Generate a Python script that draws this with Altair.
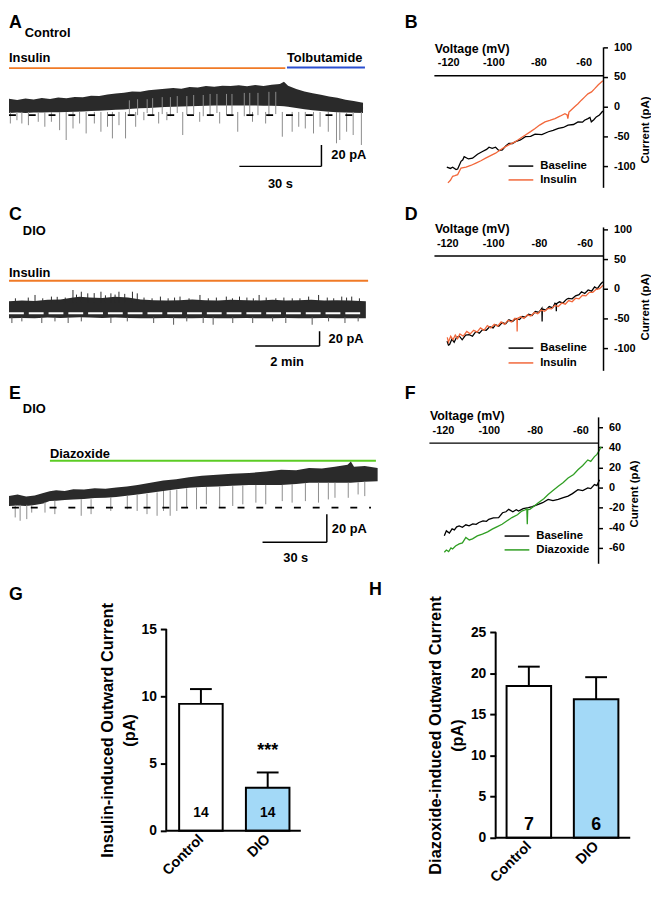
import altair as alt
import pandas as pd

FONT = "Liberation Sans"
TRACE = "#2a2a2a"
SPIKE = "#8c8c8c"
ORANGE_BAR = "#f07a26"
ORANGE_LINE = "#f2673a"
BLUE_BAR = "#2b4fd0"
GREEN_BAR = "#5ccc24"
GREEN_LINE = "#2f9e22"
LIGHT_BLUE = "#a3d9f7"

# ---------------- Panel A: Control, insulin then tolbutamide (time s, current pA) ----------------
A_t = [0, 3, 6, 9, 12, 15, 18, 21, 24, 27, 30, 33, 36, 39, 42, 45, 48, 51, 54, 57, 60, 63, 66,
       69, 72, 75, 78, 81, 84, 87, 90, 93, 96, 99, 100.5, 102, 105, 108, 111, 114, 117, 120,
       123, 126, 129.4]
A_top = [15.4, 14.2, 15.8, 14.8, 16.2, 15.2, 16.6, 16.0, 17.2, 17.0, 18.4, 18.0, 19.6, 20.5,
         21.2, 22.4, 22.0, 23.6, 24.2, 24.8, 25.6, 25.0, 26.6, 26.2, 27.4, 26.8, 27.8, 27.4,
         28.2, 27.2, 28.4, 27.6, 28.8, 29.5, 31.5, 27.8, 24.6, 22.4, 20.6, 19.2, 17.6, 16.4,
         14.6, 13.4, 11.7]
A_bot = [2.0, 2.5, 2.0, 2.5, 2.4, 2.6, 2.8, 3.0, 3.2, 3.4, 3.8, 4.2, 4.6, 5.0, 5.4, 6.0, 6.4,
         6.8, 7.2, 7.6, 8.0, 8.2, 8.4, 8.6, 8.8, 9.0, 9.0, 9.2, 9.2, 9.0, 9.0, 8.8, 8.8, 8.6,
         8.4, 8.0, 6.8, 5.6, 4.6, 3.8, 3.2, 2.8, 2.4, 2.2, 2.0]
A_down_t = [0.5, 2.9, 4.7, 7.1, 10.7, 13.1, 15.5, 18.5, 20.9, 23.4, 25.8, 28.2, 31.2, 33.6, 36.0,
            37.8, 40.2, 42.6, 46.3, 49.3, 54.7, 57.7, 63.5, 69.7, 77.0, 83.6, 89.0, 93.8, 99.9,
            103.5, 105.9, 108.3, 111.3, 113.7, 116.7, 119.7, 120.9, 123.4, 125.8, 128.8]
A_down_to = [-7.9, -4.8, -7.9, -9.5, -6.3, -11.0, -6.3, -14.2, -23.5, -12.6, -7.9, -17.3, -7.9,
             -15.7, -11.0, -22.0, -9.5, -22.0, -11.0, -4.8, -7.9, -4.8, -18.8, -6.3, -7.9,
             -15.7, -6.3, -7.9, -20.4, -15.7, -11.0, -12.6, -17.3, -11.0, -15.7, -26.6, -23.5,
             -15.7, -18.8, -28.2]
A_streak_t = [44, 47, 50.5, 52.5, 56, 59, 61.5, 65, 67.5, 71, 73.5, 76, 79.5, 81.5, 86, 88, 91,
              95, 97.5]
A_streak_from = [14, 15, 15, 16, 17, 17, 18, 18, 19, 19, 20, 20, 20, 20, 21, 21, 21, 22, 22]
A_streak_to = [1, 0, 2, 0, 1, -1, 2, 0, 1, -1, 0, 2, 0, 1, -1, 1, 0, -1, 1]

# ---------------- Panel C: DIO, insulin (time min, current pA) ----------------
C_t = [0, 0.4, 0.8, 1.2, 1.6, 2.0, 2.2, 2.5, 2.9, 3.3, 3.7, 4.1, 4.5, 4.9, 5.3, 5.7, 6.1, 6.5,
       6.9, 7.4, 7.8, 8.2, 8.6, 9.0, 9.4, 9.8, 10.2, 10.6, 11.1]
C_top = [16, 17, 16.5, 18, 18.5, 21, 22, 21, 20.5, 22, 21, 18.5, 17.5, 17, 17.5, 18.5, 17.5, 17,
         18, 17.5, 17, 18, 17, 17.5, 18, 17, 17.5, 17, 16]
C_bot = [-7, -6.5, -7, -6, -6.5, -6, -5.5, -6, -6.5, -6, -6.5, -7, -7, -6.5, -7, -7, -6.5, -7,
         -7, -6.5, -7, -7, -6.5, -7, -7, -6.5, -7, -7, -7]
C_up_t = [0.81, 1.32, 1.99, 2.25, 2.45, 2.86, 3.17, 3.42, 3.84, 3.99, 4.71, 5.32, 5.94, 6.76,
          7.17, 7.78, 8.81, 9.32, 9.63, 10.35, 10.66, 0.2, 0.6, 1.05, 1.5, 1.75, 2.1, 2.65, 3.0,
          3.3, 3.6, 4.2, 4.45, 4.95, 5.15, 5.6, 6.2, 6.45, 6.95, 7.4, 7.6, 8.0, 8.3, 8.55, 9.05,
          9.9, 10.1, 10.5, 10.9]
C_up_to = [24.5, 22.3, 31.2, 28.9, 26.7, 28.9, 26.7, 28.9, 28.9, 26.7, 22.3, 22.3, 24.5, 22.3,
           22.3, 24.5, 20, 22.3, 24.5, 22.3, 22.3, 20, 21, 20, 22, 21, 25, 27, 24, 25, 26, 21,
           20, 20, 21, 20, 20, 21, 20, 21, 20, 21, 20, 21, 20, 21, 20, 21, 20]
C_dn_t = [0.09, 0.4, 1.02, 1.43, 1.84, 2.25, 3.17, 3.68, 4.5, 5.12, 5.53, 6.04, 6.35, 6.96, 7.58,
          8.2, 8.61, 9.43, 9.94, 10.45, 10.86]
C_dn_to = [-13.3, -11.1, -13.3, -11.1, -13.3, -11.1, -13.3, -11.1, -13.3, -15.6, -11.1, -13.3,
           -15.6, -13.3, -13.3, -11.1, -13.3, -15.6, -11.1, -13.3, -11.1]

# ---------------- Panel E: DIO, diazoxide (time s, current pA) ----------------
E_t = [0, 4, 8, 12, 16, 19, 22, 26, 30, 35, 40, 45, 50, 55, 60, 66, 72, 78, 84, 90, 97, 104,
       112, 120, 127, 134, 140, 146, 152, 158, 159.5, 161, 166, 172]
E_top = [8.3, 9.5, 8.0, 8.8, 10.5, 11.8, 12.5, 12.0, 13.2, 13.1, 14.0, 13.6, 14.5, 15.2, 16.4,
         17.9, 19.5, 20.5, 22.0, 23.0, 23.8, 24.5, 25.0, 26.0, 27.4, 27.0, 28.6, 28.2, 29.5,
         30.9, 33.3, 29.5, 30.0, 28.6]
E_bot = [1.1, 1.5, 1.2, 1.9, 3.0, 4.7, 5.0, 5.5, 5.9, 6.2, 7.0, 7.2, 7.6, 8.5, 9.5, 10.7, 12.0,
         13.3, 14.3, 14.8, 15.2, 15.8, 16.4, 16.4, 16.4, 17.0, 17.9, 17.9, 17.9, 17.9, 17.9,
         18.2, 18.6, 19.0]
E_spk_t = [2.9, 5.2, 8.3, 10.6, 16.8, 21.4, 33.7, 38.3, 47.5, 55.2, 59.8, 64.4, 69.1, 72.1, 75.2,
           78.3, 82.9, 87.5, 92.1, 98.3, 104.4, 109.1, 115.2, 119.8, 127.5, 132.1, 138.3, 144.4,
           149, 152.1, 158.3, 162.9, 166]
E_spk_from = [2, 2, 2, 2, 4, 5, 6, 6, 7.5, 8.5, 9.5, 10, 11, 12, 12.5, 13, 14, 14.5, 14.8, 15.2,
              15.5, 16, 16.4, 16.4, 16.4, 17, 17.9, 17.9, 17.9, 17.9, 17.9, 18.2, 18.6]
E_spk_to = [-7.1, -9.5, -8.3, -3.6, -3.6, -4.7, -5.9, -4.7, -2.4, -1.2, -2.4, -4.7, -5.9, -2.4,
            -5.9, -2.4, 0, -1.2, 2.4, 0, 1.2, 2.4, 3.6, 2.4, 4.7, 3.6, 4.7, 3.6, 5.9, 7.1, 7.1,
            9.5, 8.3]

# ---------------- Panel B: I-V, control (mV, pA) ----------------
B_base_V = [-120.6, -119, -118, -116.5, -115.8, -114.3, -113.5, -112.9, -111, -109.2, -107,
            -104.8, -103, -101.9, -100.5, -99, -97.5, -96, -94.5, -93.1, -91.5, -90.2, -88,
            -85.8, -83.5, -81.5, -78.5, -75.6, -73.5, -71.2, -69, -66.9, -64.5, -62.5, -60.5,
            -59.6, -58.1, -57.2, -56.6, -55.5, -54.4, -53, -51.5]
B_base_I = [-101.7, -104, -102, -106, -105, -92, -89.5, -84, -88, -86.7, -80, -75.5, -72, -68.3,
            -70, -68.3, -74, -72.8, -66, -61.7, -62, -58.9, -56, -50.5, -50, -46.1, -47, -42.2,
            -40, -36.7, -35, -31.1, -30, -25.5, -26, -22.8, -20, -18, -25.5, -22, -17.2, -14,
            -7.2]
B_ins_V = [-120.1, -119, -118, -117, -115.8, -114.3, -112.1, -110, -107.7, -105.5, -103.4, -101,
           -99, -97, -94.6, -92.5, -90.2, -88, -85.8, -83.5, -81.5, -79.5, -77.1, -75, -72.7,
           -70.5, -68.3, -67.3, -67, -66.5, -65.4, -64, -62.5, -61, -59.6, -58.1, -56.5, -55.2,
           -53.5, -51.5]
B_ins_I = [-128.3, -124, -117.2, -116, -114.4, -103.3, -101.7, -99, -95, -91, -86.7, -82, -78.3,
           -73, -67.2, -63, -58.9, -53, -47.8, -42, -36.7, -31, -25.5, -23, -20, -16, -11.7,
           -14, -20, -9, -5, 0, 5, 11, 16.2, 21.7, 25, 30, 37, 43.8]

# ---------------- Panel D: I-V, DIO (mV, pA) ----------------
D_base_V = [-120.1, -119.5, -119, -118, -117, -116, -114.7, -113.5, -112, -110.4, -109, -107.5,
            -106, -104.6, -103, -101.5, -100, -98.9, -97.5, -96, -94.5, -93.1, -91.5, -90,
            -88.5, -87.3, -86, -84.5, -83, -81.6, -80, -78.7, -78.6, -78.5, -77, -75.5, -74,
            -73, -72.5, -72.4, -72.3, -71, -69.5, -68, -67.2, -65.5, -64, -62.5, -61.4, -60,
            -58.5, -57, -55.7, -54.5, -53, -52.1]
D_base_I = [-88.3, -95, -93.9, -85, -90, -82, -80, -86, -78, -77.2, -80, -72, -75, -68.9, -70,
            -64, -66, -60.6, -63, -57, -59, -52.2, -55, -50, -52, -46.7, -48, -43, -45, -38.3,
            -40, -32.8, -55, -34, -36, -30, -32, -24.4, -26, -38, -25, -22, -24, -18, -16.1,
            -17, -12, -10, -5, -8, -2, -4, 3.3, 0, 8, 11.7]
D_ins_V = [-120, -119.5, -118.5, -117.5, -116.5, -115.5, -114.5, -113, -111.5, -110, -108.5,
           -107, -105.5, -104, -102.5, -101, -99.5, -98, -96.5, -95, -93.5, -92, -90.5, -89.6,
           -89.5, -89.4, -88, -86.5, -85, -83.5, -82, -80.5, -79, -77.5, -76, -74.5, -73, -71.5,
           -70, -68.5, -67, -65.5, -64, -62.5, -61, -59.5, -58, -56.5, -55, -53.5, -52]
D_ins_I = [-82, -90, -80, -86, -78, -84, -76, -80, -72, -76, -70, -73, -66, -70, -62, -66, -60,
           -63, -56, -60, -53, -56, -50, -52, -72, -50, -47, -50, -44, -46, -40, -42, -36, -38,
           -33, -34, -28, -30, -24, -26, -20, -22, -16, -17, -11, -12, -6, -6, -1, 0, 6]

# ---------------- Panel F: I-V, DIO diazoxide (mV, pA) ----------------
F_base_V = [-119.4, -118.5, -117.2, -116, -115, -114, -112.9, -111.5, -110, -108.6, -107,
            -105.5, -104.3, -102.5, -101, -100, -98, -95.7, -94, -92.5, -91.3, -89.5, -88, -87,
            -85, -82.7, -81, -78.4, -76.5, -74.1, -72, -69.7, -67.5, -65.4, -63.5, -61.1, -59,
            -56.8, -55.5, -53.9, -52.8, -51.7]
F_base_I = [-47.9, -43, -45.2, -41, -42, -39, -38, -39.5, -37, -38, -36, -36.5, -34.7, -33,
            -33.5, -31.5, -30, -29.8, -25, -24, -21.6, -24, -22, -23.3, -21, -20, -19, -16.7,
            -15, -11.8, -13, -11.8, -10, -8.5, -6, -2, -3, -0.3, -1, 3, 2, 7.9]
F_dz_V = [-119.4, -118.5, -117.5, -116.5, -115.8, -114.5, -112.9, -111.5, -110, -108.5, -107.1,
          -105, -102.8, -100.5, -98.5, -96.5, -94.2, -92, -89.9, -87.5, -85.6, -84, -83.4,
          -83.2, -83, -82.1, -80, -78.4, -76, -74.1, -72, -69.7, -67.5, -65.4, -63, -61.1, -59,
          -56.8, -55.5, -53.9, -52.8, -51.7, -51]
F_dz_I = [-64.2, -62, -63.5, -60, -61, -58, -56, -55, -49.5, -52, -51, -48, -46.2, -44, -41.3,
          -39, -36.4, -33, -29.8, -27, -23.3, -22, -21, -36.4, -22, -21.6, -18, -15, -11, -6.9,
          -3, 1.3, 5, 9.5, 13, 17.7, 22, 27.5, 26, 30.8, 33, 37.4, 40.6]

# ---------------- Panels G, H: bar charts ----------------
groups = ["Control", "DIO"]
G_mean = [9.44, 3.21]
G_sem = [1.10, 1.13]
G_n = ["14", "14"]
H_mean = [18.46, 16.85]
H_sem = [2.36, 2.69]
H_n = ["7", "6"]

ONE = pd.DataFrame({"z": [0]})


def label(text, x, y, size, align="left", baseline="alphabetic"):
    return alt.Chart(ONE).mark_text(
        text=text, font=FONT, fontSize=size, fontWeight="bold", align=align,
        baseline=baseline, color="black").encode(x=alt.value(x), y=alt.value(y))


def trace_panel(w, h, xdom, ydom, band, rules, dash, drugs, sbar, texts):
    xs = alt.Scale(domain=xdom, nice=False, zero=False)
    ys = alt.Scale(domain=ydom, nice=False, zero=False)

    def X(f):
        return alt.X(f + ":Q", scale=xs, axis=None)

    def Y(f):
        return alt.Y(f + ":Q", scale=ys, axis=None)

    layers = []
    for name, t0, t1, ib, it, col in drugs:
        d = pd.DataFrame({"t0": [t0], "t1": [t1], "i": [ib], "it": [it], "name": [name]})
        layers.append(alt.Chart(d).mark_rule(color=col, strokeWidth=2).encode(
            x=X("t0"), x2=alt.X2("t1"), y=Y("i")))
        layers.append(alt.Chart(d).mark_text(
            font=FONT, fontSize=13, fontWeight="bold", align="left", baseline="alphabetic",
            color="black").encode(x=X("t0"), y=Y("it"), text="name:N"))
    bt, btop, bbot = band
    layers.append(alt.Chart(pd.DataFrame({"t": bt, "top": btop, "bot": bbot})).mark_area(
        color=TRACE, interpolate="linear").encode(x=X("t"), y=Y("top"), y2=alt.Y2("bot")))
    for rt, ra, rb, col in rules:
        layers.append(alt.Chart(pd.DataFrame({"t": rt, "a": ra, "b": rb})).mark_rule(
            color=col, strokeWidth=1).encode(x=X("t"), y=Y("a"), y2=alt.Y2("b")))
    dt0, dt1, dcol, dpat = dash
    layers.append(alt.Chart(pd.DataFrame({"t0": [dt0], "t1": [dt1], "i": [0]})).mark_rule(
        color=dcol, strokeWidth=2, strokeDash=dpat).encode(x=X("t0"), x2=alt.X2("t1"), y=Y("i")))
    (vt, vi0, vi1), (ht0, ht1, hi), (ylab, ylt, yli), (xlab, xlt, xli) = sbar
    layers.append(alt.Chart(pd.DataFrame({"t": [vt], "a": [vi0], "b": [vi1]})).mark_rule(
        color="black", strokeWidth=1.5).encode(x=X("t"), y=Y("a"), y2=alt.Y2("b")))
    layers.append(alt.Chart(pd.DataFrame({"t0": [ht0], "t1": [ht1], "i": [hi]})).mark_rule(
        color="black", strokeWidth=1.5).encode(x=X("t0"), x2=alt.X2("t1"), y=Y("i")))
    layers.append(alt.Chart(pd.DataFrame({"t": [ylt], "i": [yli], "s": [ylab]})).mark_text(
        font=FONT, fontSize=13, fontWeight="bold", align="left", baseline="middle",
        color="black").encode(x=X("t"), y=Y("i"), text="s:N"))
    layers.append(alt.Chart(pd.DataFrame({"t": [xlt], "i": [xli], "s": [xlab]})).mark_text(
        font=FONT, fontSize=13, fontWeight="bold", align="center", baseline="alphabetic",
        color="black").encode(x=X("t"), y=Y("i"), text="s:N"))
    for txt, px, py, size in texts:
        layers.append(label(txt, px, py, size))
    return alt.layer(*layers).properties(width=w, height=h)


def iv_panel(w, h, xdom, ydom, xline, yline, yvals, v1, i1, v2, i2, names, colors, leg,
             letter, title_y):
    # xline = (V start, V end, I level of the voltage axis); yline = (V of current axis, I low, I high)
    df = pd.concat([pd.DataFrame({"V": v1, "I": i1, "s": names[0]}),
                    pd.DataFrame({"V": v2, "I": i2, "s": names[1]})])
    off = -(ydom[1] - xline[2]) / (ydom[1] - ydom[0]) * h
    X = alt.X("V:Q", scale=alt.Scale(domain=xdom, nice=False, zero=False),
              axis=alt.Axis(orient="top", offset=off, values=[-120, -100, -80, -60],
                            labelExpr="'' + datum.value", title="Voltage (mV)",
                            titleAnchor="start", titleAlign="left", titleFontSize=12.5,
                            titleX=(xline[0] - xdom[0]) / (xdom[1] - xdom[0]) * w,
                            labelFontSize=11, ticks=False, labelPadding=8, titlePadding=2,
                            domain=False, labelFlush=False, labelOverlap=False))
    Y = alt.Y("I:Q", scale=alt.Scale(domain=ydom, nice=False, zero=False),
              axis=alt.Axis(orient="right", values=yvals, labelExpr="'' + datum.value",
                            title="Current (pA)", titleAngle=270, titleBaseline="top",
                            titleFontSize=11.5, titlePadding=4, titleY=title_y, tickSize=4,
                            tickWidth=1.5, labelPadding=6, labelFontSize=11, domain=False,
                            labelFlush=False, labelOverlap=False, labelSeparation=0))
    lines = alt.Chart(df).mark_line(strokeWidth=1.3).encode(
        x=X, y=Y,
        color=alt.Color("s:N", scale=alt.Scale(domain=names, range=colors), legend=None),
    )
    xl = alt.Chart(pd.DataFrame({"V": [xline[0]], "V2": [xline[1]], "I": [xline[2]]})).mark_rule(
        color="black", strokeWidth=1.5).encode(x=X, x2="V2:Q", y=Y)
    yl = alt.Chart(pd.DataFrame({"V": [yline[0]], "I": [yline[1]], "I2": [yline[2]]})).mark_rule(
        color="black", strokeWidth=1.5).encode(x=X, y=Y, y2="I2:Q")
    layers = [lines, xl, yl]
    lx0, ly0, dy = leg
    for k, (nm, col) in enumerate(zip(names, colors)):
        yk = ly0 + k * dy
        layers.append(alt.Chart(ONE).mark_rule(color=col, strokeWidth=1.5).encode(
            x=alt.value(lx0), x2=alt.value(lx0 + 25), y=alt.value(yk)))
        layers.append(label(nm, lx0 + 32, yk, 11.5, baseline="middle"))
    lt, lx, ly = letter
    layers.append(label(lt, lx, ly, 18))
    return alt.layer(*layers).properties(width=w, height=h)


def bar_panel(w, h, xdom, ydom, axis_x, yvals, ytop, means, sems, ns, title, nsize, stars,
              letter, tpad, half, cap):
    pos = [1, 2]
    df = pd.DataFrame({"pos": pos, "mean": means, "sem": sems, "n": ns,
                       "fill": ["white", LIGHT_BLUE], "stars": stars})
    df["upper"] = df["mean"] + df["sem"]
    df["x0"] = df["pos"] - half
    df["x1"] = df["pos"] + half
    df["c0"] = df["pos"] - cap
    df["c1"] = df["pos"] + cap
    off = -(axis_x - xdom[0]) / (xdom[1] - xdom[0]) * w
    names_expr = "[" + ", ".join("'" + g + "'" for g in groups) + "][datum.value - 1]"
    xs = alt.Scale(domain=xdom, nice=False, zero=False)
    ys = alt.Scale(domain=ydom, nice=False)
    x = alt.X("pos:Q", scale=xs,
              axis=alt.Axis(title=None, values=pos, labelExpr=names_expr, labelAngle=-45,
                            labelAlign="right", labelBaseline="middle", ticks=False,
                            domain=False, labelFontSize=14.5, labelPadding=6))
    y = alt.Y("mean:Q", scale=ys,
              axis=alt.Axis(values=yvals, title=title, titleFontSize=16.5, titleLineHeight=22,
                            titlePadding=tpad, labelFontSize=14, tickSize=6, tickWidth=2,
                            domain=False, labelPadding=4, offset=off,
                            titleY=(ydom[1] - ytop / 2) / ydom[1] * h))
    base = alt.Chart(df)
    err = base.mark_rule(color="black", strokeWidth=2).encode(x=x, y=y, y2="upper:Q")
    bars = base.mark_bar(stroke="black", strokeWidth=2).encode(
        x=alt.X("x0:Q", scale=xs), x2="x1:Q", y="mean:Q", y2=alt.datum(0),
        fill=alt.Fill("fill:N", scale=None))
    capm = base.mark_rule(color="black", strokeWidth=2).encode(
        x="c0:Q", x2="c1:Q", y="upper:Q")
    ntxt = base.mark_text(font=FONT, fontSize=nsize, fontWeight="bold",
                          baseline="alphabetic").encode(x="pos:Q", y=alt.datum(1), text="n:N")
    star = base.mark_text(font=FONT, fontSize=18, fontWeight="bold", baseline="alphabetic",
                          dy=-17).encode(x="pos:Q", y="upper:Q", text="stars:N")
    xl = alt.Chart(ONE).mark_rule(color="black", strokeWidth=2).encode(
        x=alt.datum(axis_x), x2=alt.datum(xdom[1]), y=alt.datum(0))
    yl = alt.Chart(ONE).mark_rule(color="black", strokeWidth=2).encode(
        x=alt.datum(axis_x), y=alt.datum(0), y2=alt.datum(ytop))
    lt, lx, ly = letter
    return alt.layer(err, bars, capm, ntxt, star, xl, yl, label(lt, lx, ly, 18)).properties(
        width=w, height=h)


A = trace_panel(
    372, 192, [0, 134.5], [-82.7, 96.7],
    (A_t, A_top, A_bot),
    [(A_down_t, [3] * len(A_down_t), A_down_to, SPIKE),
     (A_streak_t, A_streak_from, A_streak_to, SPIKE)],
    (0, 129.4, "black", [7, 13]),
    [("Insulin", 0, 101, 44.4, 50, ORANGE_BAR), ("Tolbutamide", 101.6, 130.1, 44.9, 50, BLUE_BAR)],
    ((114.2, -28.2, -48.4), (84.2, 114.2, -48.4), ("20 pA", 117.8, -37.5), ("30 s", 99.2, -68.7)),
    [("A", 0, 15, 18), ("Control", 16, 25, 13)])

C = trace_panel(
    372, 180, [0, 11.446], [-91.1, 148.9],
    (C_t, C_top, C_bot),
    [(C_up_t, [15] * len(C_up_t), C_up_to, TRACE),
     (C_dn_t, [-5] * len(C_dn_t), C_dn_to, "#555555")],
    (0, 11.0, "white", [15, 5]),
    [("Insulin", 0, 11.17, 43.6, 49, ORANGE_BAR)],
    ((9.66, -24.4, -44.4), (7.66, 9.66, -44.4), ("20 pA", 9.94, -34.4), ("2 min", 8.65, -71.6)),
    [("C", 0, 18, 18), ("DIO", 14, 33, 13)])

E = trace_panel(
    372, 190, [0, 171.7], [-44.1, 91.6],
    (E_t, E_top, E_bot),
    [(E_spk_t, E_spk_from, E_spk_to, SPIKE)],
    (1.4, 168.9, "black", [7, 12]),
    [("Diazoxide", 19.1, 171.2, 33.8, 35.9, GREEN_BAR)],
    ((148.3, -4.8, -25.0), (118.3, 148.3, -25.0), ("20 pA", 150.6, -15.5), ("30 s", 133.8, -39.0)),
    [("E", 0, 18, 18), ("DIO", 14, 33, 13)])

B = iv_panel(176, 192, [-128.3, -51.2], [-161.7, 158.3], (-126.1, -51.2, 52),
             (-51.2, -136.7, 100), [100, 50, 0, -50, -100],
             B_base_V, B_base_I, B_ins_V, B_ins_I, ["Baseline", "Insulin"],
             ["black", ORANGE_LINE], (80, 155, 14), ("B", -25, 15), 118)
D = iv_panel(176, 180, [-127.8, -51.8], [-155, 145], (-125.6, -51.8, 55),
             (-51.8, -138.3, 103.3), [100, 50, 0, -50, -100],
             D_base_V, D_base_I, D_ins_V, D_ins_I, ["Baseline", "Insulin"],
             ["black", ORANGE_LINE], (80, 147, 15), ("D", -25, 18), 105)
F = iv_panel(171, 190, [-125.9, -52.1], [-80.6, 106.2], (-125.9, -52.1, 44.2),
             (-52.1, -75.7, 69.8), [60, 40, 20, 0, -20, -40, -60],
             F_base_V, F_base_I, F_dz_V, F_dz_I, ["Baseline", "Diazoxide"],
             ["black", GREEN_LINE], (76, 157, 14), ("F", -25, 18), 114)

G = bar_panel(295, 265, [-1.874, 2.496], [0, 19.49], 0.481, [0, 5, 10, 15], 15,
              G_mean, G_sem, G_n, ["Insulin-induced Outward Current", "(pA)"], 14,
              ["", "***"], ("G", 0, 32), 4, 0.326, 0.163)
H = bar_panel(203, 272, [-0.478, 2.507], [0, 32.74], 0.507, [0, 5, 10, 15, 20, 25], 25,
              H_mean, H_sem, H_n, ["Diazoxide-induced Outward Current", "(pA)"], 18,
              ["", ""], ("H", -61, 27), 5, 0.331, 0.162)

chart = alt.concat(A, B, C, D, E, F, G, H, columns=2, spacing={"row": 0, "column": 53},
                   bounds="flush").resolve_scale(
    color="independent", fill="independent"
).properties(
    padding=0, background="white"
).configure_view(stroke=None).configure_axis(
    grid=False, labelFont=FONT, titleFont=FONT, labelFontWeight="bold", titleFontWeight="bold",
    labelColor="black", titleColor="black", domainColor="black", tickColor="black",
    labelOverlap=False
)

chart.save("out.html", embed_options={"renderer": "svg", "actions": False})
